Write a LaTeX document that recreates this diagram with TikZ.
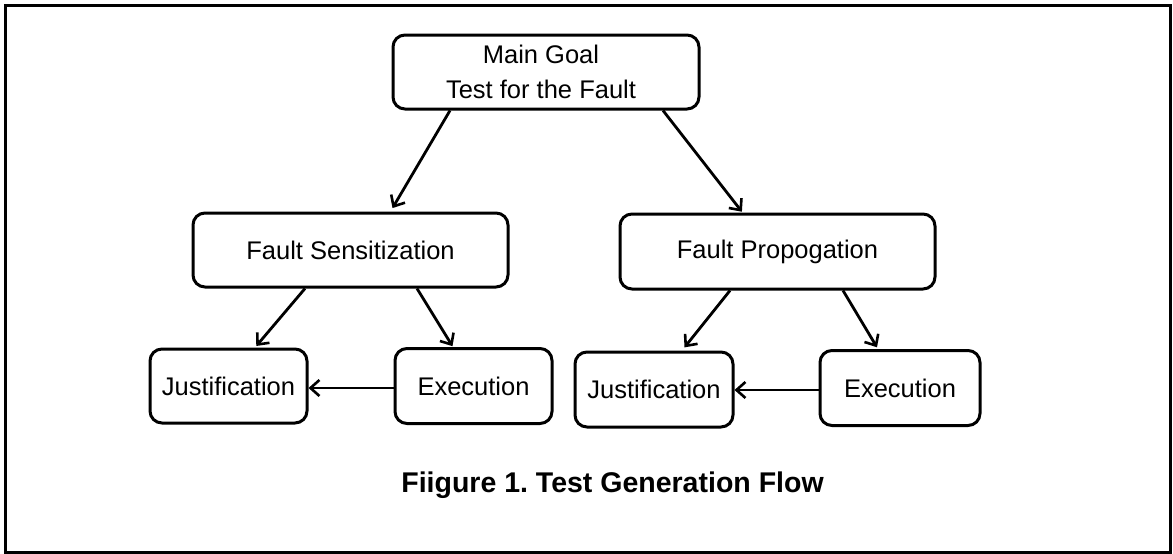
\documentclass[tikz,border=0pt]{standalone}
\usepackage{fontspec}
\setmainfont{Liberation Sans}
\usetikzlibrary{arrows.meta}
\tikzset{
  box/.style={draw, line width=3pt, rounded corners=12pt, inner sep=0pt,
    font=\fontsize{25.5}{35}\selectfont, align=center},
  arr/.style={line width=2.8pt, -{Straight Barb[length=9pt,width=16pt,line width=2.6pt]}}
}
\begin{document}
\frenchspacing
\begin{tikzpicture}[x=1pt,y=-1pt]
  \useasboundingbox (0,0) rectangle (1173,554);
  % outer frame
  \draw[line width=3pt] (5,5) rectangle (1170,552);

  % goal hierarchy
  \node[box, minimum width=306pt, minimum height=74pt] (main) at (546,72)
    {\hspace*{-10pt}Main Goal\\\hspace*{-10pt}Test for the Fault};
  \node[box, minimum width=315pt, minimum height=74pt] (fs) at (350.5,250) {Fault Sensitization};
  \node[box, minimum width=315pt, minimum height=75pt] (fp) at (777.5,251.5) {Fault Propogation};

  \node[box, minimum width=157pt, minimum height=74pt] (lj) at (228.5,386) {Justification};
  \node[box, minimum width=157pt, minimum height=75pt] (le) at (473.5,386) {Execution};
  \node[box, minimum width=158pt, minimum height=75pt] (rj) at (654,389.5) {Justification};
  \node[box, minimum width=160pt, minimum height=75pt] (re) at (900,388) {Execution};

  % connectors
  \draw[arr, shorten >=4pt] ([xshift=-96pt]main.south) -- ([xshift=40pt]fs.north);
  \draw[arr, shorten >=1pt] ([xshift=117pt]main.south) -- ([xshift=-35pt]fp.north);
  \draw[arr, shorten >=2pt] ([xshift=-45.5pt]fs.south) -- ([xshift=26.5pt]lj.north);
  \draw[arr, shorten >=1pt] ([xshift=66.5pt]fs.south) -- ([xshift=-20.5pt]le.north);
  \draw[arr] ([yshift=-2pt]le.west) -- ([yshift=-2pt]le.west -| lj.east);
  \draw[arr, shorten >=4pt] ([xshift=-47.5pt]fp.south) -- ([xshift=28pt]rj.north);
  \draw[arr, shorten >=2pt] ([xshift=65.5pt]fp.south) -- ([xshift=-22pt]re.north);
  \draw[arr] ([yshift=-2pt]re.west) -- ([yshift=-2pt]re.west -| rj.east);

  % caption
  \node[font=\bfseries\fontsize{28.5}{32}\selectfont] (cap) at (612.5,485)
    {Fiigure 1. Test Generation Flow};
\end{tikzpicture}
\end{document}
